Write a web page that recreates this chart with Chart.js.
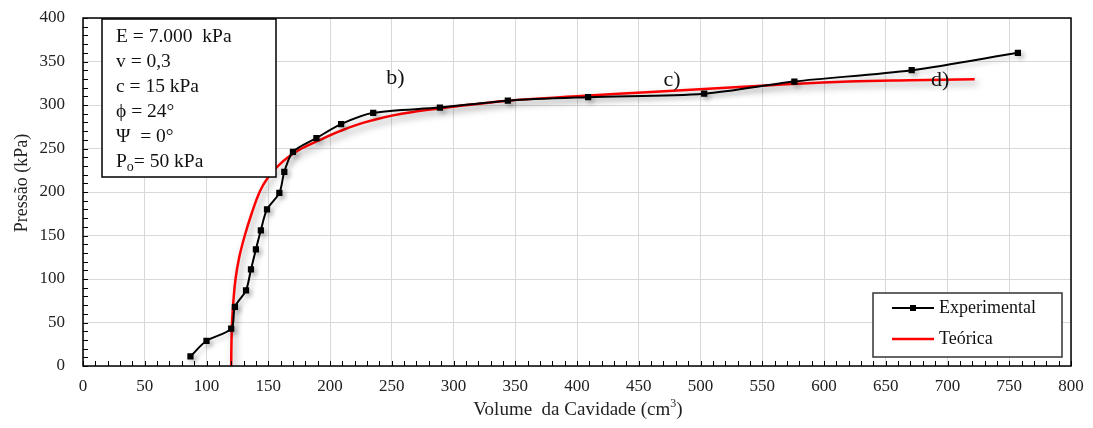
<!DOCTYPE html>
<html>
<head>
<meta charset="utf-8">
<script src="https://cdn.jsdelivr.net/npm/chart.js@4/dist/chart.umd.min.js"></script>
<style>
html,body{margin:0;padding:0;background:#fff;}
#wrap{width:1093px;height:428px;position:relative;}
</style>
</head>
<body>
<div id="wrap"><canvas id="c" width="1093" height="428"></canvas></div>
<script>
// ---- data ----
const volExp  = [87, 100, 120, 123, 132, 136, 140, 144, 149, 159, 163, 170, 189, 209, 235, 289, 344, 409, 503, 576, 671, 757];
const presExp = [11, 29, 43, 68, 87, 111, 134, 156, 180, 199, 223, 246, 262, 278, 291, 297, 305, 309, 313, 327, 340, 360];
const volTeo  = [120, 120.2, 120.7, 121.8, 123.5, 126.5, 131, 136.5, 143, 149.5, 158, 166, 177, 192, 208, 228, 258, 300, 344, 400, 460, 510, 560, 620, 670, 722];
const presTeo = [0, 25, 50, 75, 100, 125, 150, 175, 200, 216, 230, 240, 250, 260, 270, 280, 290, 298, 305, 310, 315, 319, 323, 327, 328.5, 329.5];
const xTickLabels = [0,50,100,150,200,250,300,350,400,450,500,550,600,650,700,750,800];
const yTickLabels = [0,50,100,150,200,250,300,350,400];
const seriesNames = ['Experimental', 'Teórica'];
const paramLines = ['E = 7.000  kPa', 'v = 0,3', 'c = 15 kPa', 'ϕ = 24°', 'Ψ  = 0°', 'P|o|= 50 kPa'];
const annoText = ['b)', 'c)', 'd)'];
const annoX = [253, 477, 694];
const annoY = [331, 329, 329];

const SERIF = '"Liberation Serif", "Times New Roman", serif';

const shadowPlugin = {
  id: 'shadow',
  beforeDatasetDraw(chart, args) {
    const ctx = chart.ctx;
    ctx.save();
    if (args.index === 1) {
      ctx.shadowColor = 'rgba(0,0,0,0.4)';
      ctx.shadowBlur = 7; ctx.shadowOffsetX = 3; ctx.shadowOffsetY = 4;
    } else {
      ctx.shadowColor = 'rgba(0,0,0,0.2)';
      ctx.shadowBlur = 5; ctx.shadowOffsetX = 3; ctx.shadowOffsetY = 3;
    }
  },
  afterDatasetDraw(chart) { chart.ctx.restore(); }
};

const decoPlugin = {
  id: 'deco',
  afterDraw(chart) {
    const ctx = chart.ctx, a = chart.chartArea;
    const xs = chart.scales.x, ys = chart.scales.y;
    ctx.save();
    // border
    ctx.strokeStyle = '#000'; ctx.lineWidth = 1.5;
    ctx.strokeRect(a.left, a.top, a.right - a.left, a.bottom - a.top);
    // minor ticks (inward)
    ctx.lineWidth = 1;
    ctx.beginPath();
    for (let v = 0; v <= 800; v += 10) {
      const px = Math.round(xs.getPixelForValue(v)) + 0.5;
      ctx.moveTo(px, a.bottom); ctx.lineTo(px, a.bottom - 5);
    }
    for (let v = 0; v <= 400; v += 10) {
      const py = Math.round(ys.getPixelForValue(v)) + 0.5;
      ctx.moveTo(a.left, py); ctx.lineTo(a.left + 5, py);
    }
    ctx.stroke();

    // axis titles
    ctx.fillStyle = '#222';
    const F = '19px ' + SERIF, FS = '12px ' + SERIF;
    ctx.font = F;
    ctx.textBaseline = 'middle';
    const t1 = 'Volume  da Cavidade (cm', t2 = '3', t3 = ')';
    const w1 = ctx.measureText(t1).width;
    ctx.font = FS; const w2 = ctx.measureText(t2).width;
    ctx.font = F; const w3 = ctx.measureText(t3).width;
    const tw = w1 + w2 + w3;
    let sx = 578 - tw / 2;
    const ty = 410;
    ctx.textAlign = 'left';
    ctx.fillText(t1, sx, ty);
    ctx.font = FS; ctx.fillText(t2, sx + w1, ty - 6);
    ctx.font = F; ctx.fillText(t3, sx + w1 + w2, ty);

    ctx.save();
    ctx.font = '18px ' + SERIF;
    ctx.translate(22, 183);
    ctx.rotate(-Math.PI / 2);
    ctx.textAlign = 'center';
    ctx.fillText('Pressão (kPa)', 0, 0);
    ctx.restore();

    // parameter box
    ctx.fillStyle = '#fff';
    ctx.fillRect(102, 19, 174, 158);
    ctx.strokeStyle = '#000'; ctx.lineWidth = 1.5;
    ctx.strokeRect(102, 19, 174, 158);
    ctx.fillStyle = '#111';
    ctx.textAlign = 'left'; ctx.textBaseline = 'middle';
    paramLines.forEach((ln, i) => {
      const y = 37 + i * 25;
      const parts = ln.split('|');
      let x = 116;
      parts.forEach((p, j) => {
        if (j === 1) {
          ctx.font = '14px ' + SERIF;
          ctx.fillText(p, x, y + 5);
          x += ctx.measureText(p).width;
        } else {
          ctx.font = '19.5px ' + SERIF;
          ctx.fillText(p, x, y);
          x += ctx.measureText(p).width;
        }
      });
    });

    // annotations
    ctx.font = '22px ' + SERIF; ctx.textAlign = 'center';
    ctx.fillStyle = '#111';
    annoText.forEach((t, i) => {
      ctx.fillText(t, xs.getPixelForValue(annoX[i]), ys.getPixelForValue(annoY[i]));
    });

    // legend
    const lx = 873, ly = 293, lw = 189, lh = 64;
    ctx.fillStyle = '#fff'; ctx.fillRect(lx, ly, lw, lh);
    ctx.strokeStyle = '#333'; ctx.lineWidth = 1.5; ctx.strokeRect(lx, ly, lw, lh);
    const ds = chart.data.datasets;
    [308, 339].forEach((yy, i) => {
      const d = ds[i];
      ctx.strokeStyle = d.borderColor; ctx.lineWidth = d.borderWidth;
      ctx.beginPath(); ctx.moveTo(892, yy); ctx.lineTo(934, yy); ctx.stroke();
      if (d.pointRadius > 0) {
        ctx.fillStyle = d.borderColor; ctx.fillRect(910, yy - 3, 6, 6);
      }
      ctx.fillStyle = '#111'; ctx.font = '18px ' + SERIF; ctx.textAlign = 'left';
      ctx.fillText(d.label, 939, yy);
    });
    ctx.restore();
  }
};

new Chart(document.getElementById('c'), {
  type: 'scatter',
  data: {
    datasets: [
      {
        label: seriesNames[0],
        data: volExp.map((v, i) => ({x: v, y: presExp[i]})),
        showLine: true, borderColor: '#000', backgroundColor: '#000',
        borderWidth: 2, pointStyle: 'rect', pointRadius: 3, pointHoverRadius: 3,
        tension: 0.3
      },
      {
        label: seriesNames[1],
        data: volTeo.map((v, i) => ({x: v, y: presTeo[i]})),
        showLine: true, borderColor: '#ff0000', backgroundColor: '#ff0000',
        borderWidth: 2.5, pointRadius: 0, pointHoverRadius: 0,
        tension: 0.4
      }
    ]
  },
  options: {
    responsive: false, animation: false,
    layout: { padding: { left: 0, right: 22, top: 18, bottom: 0 } },
    plugins: { legend: { display: false }, tooltip: { enabled: false } },
    scales: {
      x: {
        type: 'linear', min: 0, max: 800,
        afterFit(s) { s.height = 62; s.paddingLeft = 0; s.paddingRight = 0; },
        afterBuildTicks(s) { s.ticks = xTickLabels.map(v => ({value: v})); },
        grid: { color: '#d9d9d9', lineWidth: 1, drawTicks: false },
        border: { display: false },
        ticks: { padding: 10, color: '#222', font: { family: SERIF, size: 17 }, maxRotation: 0 }
      },
      y: {
        type: 'linear', min: 0, max: 400,
        afterFit(s) { s.width = 83; s.paddingTop = 0; s.paddingBottom = 0; },
        afterBuildTicks(s) { s.ticks = yTickLabels.map(v => ({value: v})); },
        grid: { color: '#d9d9d9', lineWidth: 1, drawTicks: false },
        border: { display: false },
        ticks: { padding: 18, color: '#222', font: { family: SERIF, size: 17 } }
      }
    }
  },
  plugins: [shadowPlugin, decoPlugin]
});
</script>
</body>
</html>
